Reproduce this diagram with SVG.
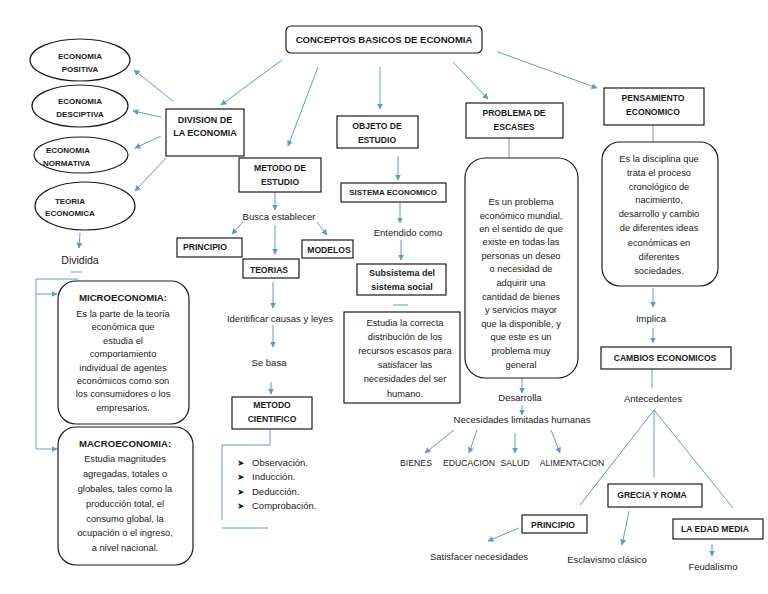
<svg xmlns="http://www.w3.org/2000/svg" width="768" height="594" viewBox="0 0 768 594">
<style>
.bx{fill:#fff;stroke:#1a1a1a;stroke-width:1.2}
.el{fill:#fff;stroke:#1a1a1a;stroke-width:1.2}
.b{font-family:"Liberation Sans",Arial,sans-serif;font-weight:bold;font-size:8.6px;fill:#1a1a1a;text-anchor:middle}
.t{font-family:"Liberation Sans",Arial,sans-serif;font-size:9.3px;fill:#1a1a1a;text-anchor:middle}
.l{font-family:"Liberation Sans",Arial,sans-serif;font-size:9.5px;fill:#1a1a1a;text-anchor:middle}
.u{font-family:"Liberation Sans",Arial,sans-serif;font-size:8.7px;fill:#1a1a1a;text-anchor:middle}
.c line,.c path{stroke:#5B9BD5;stroke-width:1;fill:none}
.c .a{marker-end:url(#ar)}
</style>
<defs>
<marker id="ar" viewBox="0 0 10 10" refX="9" refY="5" markerWidth="6" markerHeight="6" orient="auto" markerUnits="userSpaceOnUse"><path d="M0,0 L10,5 L0,10 z" fill="#5B9BD5"/></marker>
</defs>
<rect width="768" height="594" fill="#fff"/>

<g class="c" id="connectors">
<line class="a" x1="282" y1="60" x2="221" y2="105"/>
<line class="a" x1="318" y1="67" x2="288" y2="146"/>
<line class="a" x1="380" y1="67" x2="380" y2="109"/>
<line class="a" x1="453" y1="62" x2="488" y2="99"/>
<line class="a" x1="498" y1="52" x2="597" y2="88"/>
<line class="a" x1="173" y1="101" x2="134" y2="70"/>
<line class="a" x1="161" y1="117" x2="133" y2="111"/>
<line class="a" x1="161" y1="136" x2="135" y2="148"/>
<line class="a" x1="166" y1="158" x2="135" y2="191"/>
<line class="a" x1="80" y1="233" x2="79" y2="248"/>
<line x1="71" y1="272" x2="82" y2="272"/>
<path d="M78,279 H36 V449 H57" class="a"/>
<path d="M36,294 H57" class="a"/>
<line class="a" x1="275" y1="192" x2="275" y2="210"/>
<line class="a" x1="243" y1="222" x2="232" y2="234"/>
<line class="a" x1="275" y1="225" x2="275" y2="254"/>
<line class="a" x1="317" y1="222" x2="327" y2="235"/>
<line class="a" x1="273" y1="282" x2="273" y2="308"/>
<line class="a" x1="273" y1="325" x2="273" y2="347"/>
<line class="a" x1="271" y1="382" x2="271" y2="394"/>
<path d="M270,429 V445 H222 V520"/>
<path d="M222,528 H268"/>
<line class="a" x1="398" y1="156" x2="398" y2="180"/>
<line class="a" x1="400" y1="203" x2="400" y2="223"/>
<line class="a" x1="401" y1="240" x2="401" y2="260"/>
<line x1="393" y1="305" x2="408" y2="305"/>
<line x1="509" y1="138" x2="509" y2="158"/>
<line class="a" x1="522" y1="378" x2="522" y2="393"/>
<line class="a" x1="522" y1="405" x2="522" y2="415"/>
<line class="a" x1="454" y1="430" x2="425" y2="453"/>
<line class="a" x1="477" y1="430" x2="469" y2="453"/>
<line class="a" x1="515" y1="433" x2="515" y2="453"/>
<line class="a" x1="551" y1="430" x2="560" y2="453"/>
<line x1="653" y1="125" x2="653" y2="142"/>
<line class="a" x1="653" y1="288" x2="653" y2="307"/>
<line class="a" x1="653" y1="328" x2="653" y2="343"/>
<line x1="652" y1="369" x2="652" y2="388"/>
<line x1="654" y1="410" x2="580" y2="505"/>
<line x1="654" y1="410" x2="654" y2="477"/>
<line x1="654" y1="410" x2="733" y2="508"/>
<line class="a" x1="519" y1="528" x2="488" y2="541"/>
<line class="a" x1="629" y1="511" x2="622" y2="545"/>
<line class="a" x1="712" y1="544" x2="712" y2="556"/>
</g>

<g id="title"><rect class="bx" x="286" y="26" width="196" height="27" rx="5"/><text class="b" x="384" y="43" style="font-size:9.5px">CONCEPTOS BASICOS DE ECONOMIA</text></g>

<g id="eco-positiva"><ellipse class="el" cx="80" cy="60" rx="50" ry="21"/><text class="b" x="80" y="59" style="font-size:8px">ECONOMIA</text><text class="b" x="80" y="72" style="font-size:8px">POSITIVA</text></g>
<g id="eco-descriptiva"><ellipse class="el" cx="80" cy="106" rx="48" ry="21"/><text class="b" x="80" y="104" style="font-size:8px">ECONOMIA</text><text class="b" x="80" y="117" style="font-size:8px">DESCIPTIVA</text></g>
<g id="eco-normativa"><ellipse class="el" cx="81" cy="155" rx="47" ry="18"/><text class="b" x="46" y="153" style="font-size:8px;text-anchor:start">ECONOMIA</text><text class="b" x="43" y="166" style="font-size:8px;text-anchor:start">NORMATIVA</text></g>
<g id="teoria-economica"><ellipse class="el" cx="85" cy="206" rx="50" ry="24"/><text class="b" x="70" y="204" style="font-size:8px">TEORIA</text><text class="b" x="70" y="216" style="font-size:8px">ECONOMICA</text></g>

<g id="division"><rect class="bx" x="166" y="109" width="78" height="47"/><text class="b" x="205" y="123" style="font-size:9px">DIVISION DE</text><text class="b" x="205" y="136" style="font-size:9px">LA ECONOMIA</text></g>

<g id="dividida"><text class="l" x="80" y="264" style="font-size:10.5px">Dividida</text></g>

<g id="micro"><rect class="bx" x="58" y="281" width="131" height="143" rx="18"/>
<text class="b" x="123" y="301" style="font-size:9.6px">MICROECONOMIA:</text>
<text class="t" x="123" y="317">Es la parte de la teoría</text>
<text class="t" x="123" y="330">económica que</text>
<text class="t" x="123" y="344">estudia el</text>
<text class="t" x="123" y="357">comportamiento</text>
<text class="t" x="123" y="371">individual de agentes</text>
<text class="t" x="123" y="384">económicos como son</text>
<text class="t" x="123" y="397">los consumidores o los</text>
<text class="t" x="123" y="411">empresarios.</text>
</g>

<g id="macro"><rect class="bx" x="58" y="427" width="135" height="138" rx="18"/>
<text class="b" x="125" y="447" style="font-size:9.6px">MACROECONOMIA:</text>
<text class="t" x="125" y="462">Estudia magnitudes</text>
<text class="t" x="125" y="477">agregadas, totales o</text>
<text class="t" x="125" y="492">globales, tales como la</text>
<text class="t" x="125" y="507">producción total, el</text>
<text class="t" x="125" y="522">consumo global, la</text>
<text class="t" x="125" y="536">ocupación o el ingreso,</text>
<text class="t" x="125" y="551">a nivel nacional.</text>
</g>

<g id="metodo-estudio"><rect class="bx" x="239" y="158" width="82" height="34"/><text class="b" x="280" y="171">METODO DE</text><text class="b" x="280" y="185">ESTUDIO</text></g>
<g id="busca"><text class="l" x="279" y="220">Busca establecer</text></g>
<g id="principio-1"><rect class="bx" x="177" y="238" width="65" height="19"/><text class="b" x="183" y="250" style="text-anchor:start">PRINCIPIO</text></g>
<g id="teorias"><rect class="bx" x="243" y="259" width="56" height="19"/><text class="b" x="269" y="273">TEORIAS</text></g>
<g id="modelos"><rect class="bx" x="302" y="240" width="51" height="18"/><text class="b" x="329" y="253">MODELOS</text></g>
<g id="identificar"><text class="l" x="280" y="322">Identificar causas y leyes</text></g>
<g id="se-basa"><text class="l" x="269" y="366">Se basa</text></g>
<g id="metodo-cientifico"><rect class="bx" x="232" y="397" width="80" height="32"/><text class="b" x="272" y="408">METODO</text><text class="b" x="272" y="422">CIENTIFICO</text></g>
<g id="pasos">
<text class="l" x="237" y="466" style="text-anchor:start;font-size:8.5px">➤</text><text class="l" x="252" y="466" style="text-anchor:start">Observación.</text>
<text class="l" x="237" y="480" style="text-anchor:start;font-size:8.5px">➤</text><text class="l" x="252" y="480" style="text-anchor:start">Inducción.</text>
<text class="l" x="237" y="495" style="text-anchor:start;font-size:8.5px">➤</text><text class="l" x="252" y="495" style="text-anchor:start">Deducción.</text>
<text class="l" x="237" y="509" style="text-anchor:start;font-size:8.5px">➤</text><text class="l" x="252" y="509" style="text-anchor:start">Comprobación.</text>
</g>

<g id="objeto"><rect class="bx" x="337" y="116" width="81" height="32"/><text class="b" x="377" y="129">OBJETO DE</text><text class="b" x="377" y="143">ESTUDIO</text></g>
<g id="sistema"><rect class="bx" x="341" y="183" width="105" height="19"/><text class="b" x="393" y="195" style="font-size:8px">SISTEMA ECONOMICO</text></g>
<g id="entendido"><text class="l" x="408" y="236">Entendido como</text></g>
<g id="subsistema"><rect class="bx" x="357" y="264" width="89" height="31"/><text class="b" x="402" y="276" style="font-size:9px">Subsistema del</text><text class="b" x="402" y="290" style="font-size:9px">sistema social</text></g>
<g id="estudia"><rect class="bx" x="344" y="312" width="116" height="91"/>
<text class="t" x="405" y="326">Estudia la correcta</text>
<text class="t" x="405" y="340">distribución de los</text>
<text class="t" x="405" y="354">recursos escasos para</text>
<text class="t" x="405" y="368">satisfacer las</text>
<text class="t" x="405" y="382">necesidades del ser</text>
<text class="t" x="405" y="397">humano.</text>
</g>

<g id="problema"><rect class="bx" x="466" y="103" width="97" height="35"/><text class="b" x="514" y="116">PROBLEMA DE</text><text class="b" x="514" y="130">ESCASES</text></g>
<g id="problema-desc"><rect class="bx" x="465" y="158" width="113" height="220" rx="20"/>
<text class="t" x="521" y="205">Es un problema</text>
<text class="t" x="521" y="219">económico mundial,</text>
<text class="t" x="521" y="232">en el sentido de que</text>
<text class="t" x="521" y="245">existe en todas las</text>
<text class="t" x="521" y="259">personas un deseo</text>
<text class="t" x="521" y="272">o necesidad de</text>
<text class="t" x="521" y="286">adquirir una</text>
<text class="t" x="521" y="300">cantidad de bienes</text>
<text class="t" x="521" y="313">y servicios mayor</text>
<text class="t" x="521" y="327">que la disponible, y</text>
<text class="t" x="521" y="340">que este es un</text>
<text class="t" x="521" y="354">problema muy</text>
<text class="t" x="521" y="368">general</text>
</g>
<g id="desarrolla"><text class="l" x="520" y="401">Desarrolla</text></g>
<g id="necesidades"><text class="l" x="522" y="423">Necesidades limitadas humanas</text></g>
<g id="bienes"><text class="u" x="416" y="466">BIENES</text></g>
<g id="educacion"><text class="u" x="469" y="466">EDUCACION</text></g>
<g id="salud"><text class="u" x="515" y="466">SALUD</text></g>
<g id="alimentacion"><text class="u" x="572" y="466">ALIMENTACION</text></g>

<g id="pensamiento"><rect class="bx" x="604" y="88" width="100" height="37"/><text class="b" x="653" y="101">PENSAMIENTO</text><text class="b" x="653" y="115">ECONOMICO</text></g>
<g id="pensamiento-desc"><rect class="bx" x="602" y="142" width="116" height="144" rx="18"/>
<text class="t" x="659" y="162">Es la disciplina que</text>
<text class="t" x="659" y="176">trata el proceso</text>
<text class="t" x="659" y="190">cronológico de</text>
<text class="t" x="659" y="203">nacimiento,</text>
<text class="t" x="659" y="217">desarrollo y cambio</text>
<text class="t" x="659" y="231">de diferentes ideas</text>
<text class="t" x="659" y="246">económicas en</text>
<text class="t" x="659" y="260">diferentes</text>
<text class="t" x="659" y="274">sociedades.</text>
</g>
<g id="implica"><text class="l" x="651" y="322">Implica</text></g>
<g id="cambios"><rect class="bx" x="601" y="347" width="130" height="22"/><text class="b" x="665" y="361">CAMBIOS ECONOMICOS</text></g>
<g id="antecedentes"><text class="l" x="653" y="402">Antecedentes</text></g>
<g id="grecia"><rect class="bx" x="608" y="484" width="94" height="23"/><text class="b" x="652" y="498">GRECIA Y ROMA</text></g>
<g id="edad-media"><rect class="bx" x="673" y="519" width="90" height="20"/><text class="b" x="715" y="532">LA EDAD MEDIA</text></g>
<g id="principio-2"><rect class="bx" x="522" y="515" width="65" height="18"/><text class="b" x="553" y="528">PRINCIPIO</text></g>
<g id="satisfacer"><text class="l" x="479" y="560">Satisfacer necesidades</text></g>
<g id="esclavismo"><text class="l" x="607" y="563">Esclavismo clásico</text></g>
<g id="feudalismo"><text class="l" x="713" y="570">Feudalismo</text></g>
</svg>
